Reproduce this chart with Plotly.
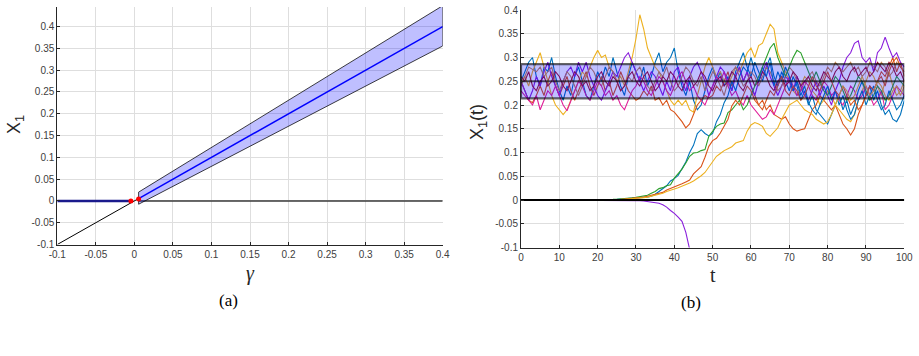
import plotly.graph_objects as go

W, H = 919, 356

# ---------------- Panel (a) data ----------------
neg_branch_x = [-0.1, -0.0045]
neg_branch_y = [0.0, 0.0]
diag_x = [-0.1, 0.0055]
diag_y = [-0.1, 0.0055]
zero_x = [0.0055, 0.4]
zero_y = [0.0, 0.0]
band_g = [0.0055, 0.1, 0.2, 0.3, 0.4]
band_mid = [0.0055, 0.1, 0.2, 0.3, 0.4]
band_up = [0.0202, 0.1226, 0.231, 0.3394, 0.448]
band_lo = [-0.0076, 0.0794, 0.1714, 0.2635, 0.3555]
red_x = [-0.0045, 0.0055]
red_y = [0.0, 0.0046]
xa_ticks = [-0.1, -0.05, 0, 0.05, 0.1, 0.15, 0.2, 0.25, 0.3, 0.35, 0.4]
xa_text = ["-0.1", "-0.05", "0", "0.05", "0.1", "0.15", "0.2", "0.25", "0.3", "0.35", "0.4"]
ya_ticks = [-0.1, -0.05, 0, 0.05, 0.1, 0.15, 0.2, 0.25, 0.3, 0.35, 0.4]
ya_text = ["-0.1", "-0.05", "0", "0.05", "0.1", "0.15", "0.2", "0.25", "0.3", "0.35", "0.4"]

# ---------------- Panel (b) data ----------------
t = list(range(101))
blue_a = [0.25,0.27,0.29,0.30,0.26,0.24,0.28,0.27,0.30,0.26,
          0.23,0.21,0.24,0.22,0.26,0.28,0.25,0.22,0.21,0.24,
          0.27,0.25,0.28,0.26,0.30,0.27,0.24,0.22,0.26,0.29,
          0.27,0.25,0.28,0.24,0.26,0.29,0.31,0.27,0.29,0.30,
          0.32,0.27,0.24,0.22,0.25,0.21,0.19,0.20,0.23,0.26,
          0.28,0.25,0.27,0.24,0.26,0.23,0.27,0.29,0.31,0.28,
          0.26,0.29,0.27,0.25,0.28,0.30,0.26,0.24,0.27,0.25,
          0.23,0.26,0.24,0.21,0.23,0.20,0.22,0.19,0.18,0.17,
          0.16,0.18,0.20,0.22,0.19,0.21,0.18,0.20,0.23,0.25,
          0.22,0.24,0.21,0.23,0.20,0.18,0.19,0.17,0.165,0.18,
          0.21]
orange_a = [0.25,0.23,0.21,0.205,0.22,0.24,0.22,0.25,0.27,0.24,
            0.22,0.24,0.26,0.23,0.21,0.23,0.25,0.27,0.24,0.22,
            0.24,0.26,0.23,0.25,0.22,0.24,0.27,0.25,0.23,0.22,
            0.21,0.215,0.23,0.22,0.24,0.21,0.215,0.20,0.21,0.19,
            0.185,0.175,0.165,0.152,0.16,0.18,0.20,0.21,0.22,0.215,
            0.22,0.24,0.23,0.25,0.27,0.24,0.26,0.28,0.25,0.27,
            0.24,0.22,0.20,0.21,0.19,0.20,0.18,0.175,0.17,0.175,
            0.16,0.15,0.145,0.148,0.15,0.17,0.19,0.20,0.22,0.21,
            0.20,0.19,0.20,0.18,0.16,0.15,0.137,0.15,0.18,0.20,
            0.22,0.24,0.23,0.25,0.27,0.26,0.28,0.30,0.27,0.29,
            0.26]
yellow_a = [0.25,0.26,0.24,0.27,0.29,0.31,0.28,0.25,0.22,0.20,
            0.19,0.18,0.19,0.21,0.23,0.25,0.27,0.26,0.28,0.30,
            0.315,0.30,0.305,0.28,0.27,0.25,0.26,0.24,0.27,0.30,
            0.34,0.39,0.36,0.32,0.30,0.28,0.27,0.25,0.23,0.21,
            0.20,0.21,0.20,0.21,0.19,0.185,0.22,0.25,0.28,0.30,
            0.28,0.26,0.27,0.25,0.24,0.26,0.28,0.27,0.29,0.31,
            0.32,0.30,0.325,0.33,0.35,0.37,0.36,0.31,0.29,0.27,
            0.25,0.23,0.22,0.24,0.26,0.25,0.23,0.22,0.20,0.21,
            0.23,0.22,0.20,0.19,0.18,0.17,0.165,0.18,0.21,0.23,
            0.25,0.27,0.26,0.24,0.22,0.25,0.27,0.24,0.22,0.23,
            0.25]
violet_a = [0.25,0.23,0.21,0.23,0.26,0.24,0.27,0.29,0.26,0.24,
            0.22,0.25,0.27,0.28,0.26,0.29,0.27,0.29,0.26,0.24,
            0.22,0.21,0.23,0.25,0.27,0.26,0.28,0.30,0.31,0.29,
            0.27,0.25,0.23,0.25,0.27,0.26,0.24,0.22,0.25,0.23,
            0.27,0.28,0.25,0.23,0.26,0.28,0.29,0.27,0.25,0.22,
            0.24,0.26,0.28,0.27,0.25,0.23,0.26,0.28,0.25,0.27,
            0.24,0.22,0.25,0.27,0.29,0.26,0.24,0.22,0.24,0.26,
            0.25,0.23,0.26,0.24,0.22,0.21,0.23,0.25,0.22,0.24,
            0.22,0.20,0.23,0.25,0.28,0.30,0.31,0.33,0.335,0.30,
            0.29,0.30,0.27,0.31,0.32,0.343,0.32,0.30,0.31,0.29,
            0.28]
tan_a = [0.24,0.26,0.28,0.275,0.27,0.28,0.26,0.27,0.28,0.25,
         0.23,0.25,0.27,0.26,0.24,0.22,0.24,0.26,0.28,0.27,
         0.25,0.24,0.26,0.28,0.27,0.25,0.23,0.24,0.26,0.25,
         0.27,0.28,0.26,0.24,0.23,0.25,0.27,0.26,0.28,0.25,
         0.23,0.24,0.26,0.28,0.27,0.25,0.24,0.26,0.23,0.25,
         0.27,0.26,0.24,0.22,0.25,0.27,0.28,0.26,0.24,0.25,
         0.27,0.26,0.24,0.26,0.28,0.27,0.25,0.23,0.24,0.26,
         0.28,0.27,0.25,0.23,0.24,0.26,0.27,0.25,0.24,0.26,
         0.28,0.27,0.29,0.28,0.27,0.28,0.29,0.27,0.28,0.26,
         0.27,0.29,0.28,0.27,0.29,0.28,0.26,0.27,0.29,0.28,
         0.27]
magenta_a = [0.23,0.22,0.21,0.20,0.22,0.19,0.21,0.23,0.22,0.24,
             0.22,0.20,0.188,0.21,0.23,0.25,0.24,0.22,0.21,0.23,
             0.25,0.24,0.22,0.23,0.21,0.22,0.20,0.19,0.21,0.23,
             0.24,0.26,0.25,0.23,0.22,0.24,0.26,0.25,0.23,0.22,
             0.24,0.26,0.27,0.25,0.23,0.24,0.22,0.21,0.20,0.22,
             0.24,0.26,0.25,0.27,0.24,0.22,0.23,0.21,0.20,0.22,
             0.20,0.19,0.18,0.17,0.175,0.19,0.18,0.20,0.22,0.24,
             0.26,0.24,0.22,0.23,0.25,0.24,0.22,0.21,0.23,0.25,
             0.24,0.22,0.23,0.21,0.20,0.22,0.24,0.23,0.21,0.22,
             0.24,0.22,0.20,0.21,0.23,0.19,0.20,0.22,0.24,0.23,
             0.22]
darkred_a = [0.26,0.25,0.27,0.24,0.23,0.25,0.26,0.24,0.25,0.27,
             0.26,0.24,0.23,0.25,0.27,0.26,0.24,0.25,0.23,0.24,
             0.26,0.27,0.25,0.24,0.26,0.25,0.23,0.24,0.26,0.27,
             0.25,0.24,0.26,0.27,0.25,0.23,0.24,0.26,0.25,0.27,
             0.26,0.24,0.23,0.25,0.26,0.24,0.25,0.27,0.26,0.24,
             0.23,0.25,0.26,0.24,0.25,0.27,0.26,0.24,0.23,0.25,
             0.26,0.24,0.25,0.27,0.26,0.24,0.23,0.25,0.26,0.24,
             0.25,0.27,0.26,0.24,0.25,0.26,0.24,0.23,0.25,0.27,
             0.26,0.25,0.27,0.28,0.26,0.25,0.27,0.28,0.26,0.27,
             0.28,0.26,0.27,0.29,0.28,0.27,0.29,0.28,0.26,0.27,
             0.25]
blue_b = [0.0]*20 + [
          0.0005,0.0006,0.0008,0.001,0.0012,0.0015,0.002,0.0025,0.003,0.004,
          0.005,0.0055,0.006,0.006,0.008,0.012,0.018,0.025,0.03,0.04,
          0.045,0.052,0.065,0.08,0.10,0.115,0.14,0.148,0.14,0.135,
          0.14,0.165,0.18,0.205,0.22,0.25,0.23,0.26,0.28,0.27,
          0.30,0.27,0.25,0.28,0.26,0.29,0.24,0.27,0.25,0.28,
          0.26,0.23,0.25,0.22,0.24,0.205,0.19,0.18,0.20,0.22,
          0.24,0.21,0.23,0.20,0.22,0.19,0.17,0.18,0.21,0.23,
          0.20,0.22,0.24,0.21,0.19,0.20,0.23,0.21,0.19,0.20,
          0.22]
green_b = [0.0]*20 + [
           0.0005,0.0006,0.0008,0.001,0.0013,0.0016,0.002,0.0028,0.0035,0.0045,
           0.0055,0.007,0.008,0.01,0.014,0.018,0.024,0.026,0.03,0.032,
           0.046,0.055,0.065,0.078,0.092,0.099,0.10,0.104,0.106,0.134,
           0.145,0.155,0.16,0.162,0.184,0.19,0.20,0.21,0.19,0.20,
           0.22,0.24,0.26,0.28,0.30,0.32,0.33,0.30,0.28,0.26,
           0.28,0.30,0.315,0.31,0.29,0.27,0.25,0.27,0.25,0.23,
           0.22,0.24,0.26,0.25,0.23,0.21,0.22,0.24,0.26,0.25,
           0.23,0.21,0.22,0.24,0.23,0.21,0.22,0.24,0.26,0.25,
           0.24]
orange_b = [0.0]*20 + [
            0.0004,0.0005,0.0006,0.0008,0.001,0.0012,0.0015,0.002,0.0025,0.003,
            0.004,0.005,0.006,0.008,0.01,0.012,0.014,0.016,0.021,0.024,
            0.027,0.03,0.034,0.038,0.042,0.055,0.063,0.07,0.09,0.113,
            0.125,0.13,0.141,0.155,0.17,0.198,0.21,0.20,0.22,0.24,
            0.23,0.21,0.20,0.19,0.21,0.23,0.22,0.24,0.26,0.23,
            0.22,0.24,0.23,0.21,0.22,0.24,0.26,0.24,0.23,0.25,
            0.27,0.25,0.23,0.22,0.24,0.22,0.20,0.21,0.19,0.20,
            0.22,0.24,0.23,0.25,0.26,0.24,0.27,0.29,0.30,0.28,
            0.27]
yellow_b = [0.0]*20 + [
            0.0003,0.0004,0.0005,0.0007,0.0009,0.001,0.0013,0.0016,0.002,0.0025,
            0.003,0.004,0.005,0.006,0.008,0.01,0.012,0.014,0.018,0.02,
            0.023,0.026,0.029,0.032,0.036,0.04,0.045,0.051,0.058,0.07,
            0.082,0.092,0.098,0.104,0.108,0.112,0.12,0.122,0.125,0.145,
            0.158,0.163,0.16,0.155,0.14,0.134,0.142,0.152,0.17,0.185,
            0.20,0.205,0.21,0.20,0.19,0.185,0.18,0.17,0.165,0.16,
            0.165,0.18,0.20,0.22,0.24,0.23,0.21,0.22,0.24,0.26,
            0.24,0.22,0.23,0.25,0.24,0.22,0.21,0.23,0.24,0.22,
            0.24]
violet_b = [0.0]*20 + [
            -0.0001,-0.0002,-0.0002,-0.0003,-0.0004,-0.0005,-0.0006,-0.0007,-0.0008,-0.0009,
            -0.001,-0.0015,-0.002,-0.003,-0.004,-0.005,-0.007,-0.01,-0.015,-0.022,
            -0.028,-0.036,-0.045,-0.068,-0.10,-0.14]
band_t = [0, 100]
band_center = 0.25
band_low = 0.214
band_high = 0.286
zero_t = [0, 100]
xb_ticks = [0, 10, 20, 30, 40, 50, 60, 70, 80, 90, 100]
yb_ticks = [-0.1, -0.05, 0, 0.05, 0.1, 0.15, 0.2, 0.25, 0.3, 0.35, 0.4]
yb_text = ["-0.1", "-0.05", "0", "0.05", "0.1", "0.15", "0.2", "0.25", "0.3", "0.35", "0.4"]

C_BLUE = "#0072BD"
C_ORANGE = "#D95319"
C_YELLOW = "#EDB120"
C_VIOLET = "#8A1FDC"
C_GREEN = "#2CA02C"
C_TAN = "#C08552"
C_MAGENTA = "#E0209A"
C_DARKRED = "#A2142F"

fig = go.Figure()

# ---- panel (a)
fig.add_trace(go.Scatter(x=diag_x, y=diag_y, mode="lines",
                         line=dict(color="#000000", width=1), xaxis="x", yaxis="y"))
fig.add_trace(go.Scatter(x=zero_x, y=zero_y, mode="lines",
                         line=dict(color="#3a3a3a", width=1.5), xaxis="x", yaxis="y"))
fig.add_trace(go.Scatter(x=neg_branch_x, y=neg_branch_y, mode="lines",
                         line=dict(color="#1a1a8c", width=2.5), xaxis="x", yaxis="y"))
poly_x = band_g + band_g[::-1] + [band_g[0]]
poly_y = band_up + band_lo[::-1] + [band_up[0]]
fig.add_trace(go.Scatter(x=poly_x, y=poly_y, mode="lines", fill="toself",
                         fillcolor="rgba(0,0,255,0.25)",
                         line=dict(color="rgba(0,0,0,0.75)", width=1), xaxis="x", yaxis="y"))
fig.add_trace(go.Scatter(x=band_g, y=band_mid, mode="lines",
                         line=dict(color="#0000FF", width=1.5), xaxis="x", yaxis="y"))
fig.add_trace(go.Scatter(x=red_x, y=red_y, mode="markers",
                         marker=dict(color="#FF0000", size=5), xaxis="x", yaxis="y"))

# ---- panel (b)
paths = [(blue_a, C_BLUE), (orange_a, C_ORANGE), (yellow_a, C_YELLOW),
         (violet_a, C_VIOLET), (tan_a, C_TAN), (magenta_a, C_MAGENTA),
         (darkred_a, C_DARKRED),
         (blue_b, C_BLUE), (green_b, C_GREEN), (orange_b, C_ORANGE),
         (yellow_b, C_YELLOW), (violet_b, C_VIOLET)]
for vals, col in paths:
    fig.add_trace(go.Scatter(x=t[:len(vals)], y=vals, mode="lines",
                             line=dict(color=col, width=1.1), xaxis="x2", yaxis="y2"))

fig.add_trace(go.Scatter(x=[band_t[0], band_t[1], band_t[1], band_t[0], band_t[0]],
                         y=[band_low, band_low, band_high, band_high, band_low],
                         mode="lines", fill="toself", fillcolor="rgba(0,0,255,0.25)",
                         line=dict(color="rgba(0,0,0,0.6)", width=2.2),
                         xaxis="x2", yaxis="y2"))
fig.add_trace(go.Scatter(x=band_t, y=[band_center, band_center], mode="lines",
                         line=dict(color="rgba(0,0,0,0.6)", width=2.2),
                         xaxis="x2", yaxis="y2"))
fig.add_trace(go.Scatter(x=zero_t, y=[0, 0], mode="lines",
                         line=dict(color="#000000", width=2), xaxis="x2", yaxis="y2"))

tickfont = dict(family="Liberation Sans", size=10, color="#404040")
common = dict(showgrid=True, gridcolor="#dedede", gridwidth=1, zeroline=False,
              showline=True, linecolor="#262626", linewidth=1, ticks="inside",
              ticklen=3, tickcolor="#262626", tickfont=tickfont, mirror=False,
              automargin=False)

def px(x):
    return x / W

def py(y):
    return 1 - y / H

fig.update_layout(
    template="none",
    width=W, height=H, margin=dict(l=0, r=0, t=0, b=0, autoexpand=False),
    paper_bgcolor="white", plot_bgcolor="white", showlegend=False,
    xaxis=dict(domain=[px(57.3), px(442.7)], range=[-0.1, 0.4], tickvals=xa_ticks,
               ticktext=xa_text, anchor="y", **common),
    yaxis=dict(domain=[py(244.5), py(7)], range=[-0.1, 0.445], tickvals=ya_ticks,
               ticktext=ya_text, anchor="x", **common),
    xaxis2=dict(domain=[px(521), px(904.3)], range=[0, 100], tickvals=xb_ticks,
                anchor="y2", **common),
    yaxis2=dict(domain=[py(247.5), py(10)], range=[-0.1, 0.4], tickvals=yb_ticks,
                ticktext=yb_text, anchor="x2", **common),
)

sans = "Liberation Sans"
serif = "Liberation Serif"
ann = [
    dict(x=px(15), y=py(125), text="X<sub>1</sub>", textangle=-90,
         font=dict(family=sans, size=18, color="#262626")),
    dict(x=px(478), y=py(122), text="X<sub>1</sub>(t)", textangle=-90,
         font=dict(family=sans, size=18, color="#262626")),
    dict(x=px(250), y=py(273), text="<i>γ</i>",
         font=dict(family=serif, size=20, color="#262626")),
    dict(x=px(713), y=py(275), text="t",
         font=dict(family=serif, size=20, color="#262626")),
    dict(x=px(228), y=py(300), text="(a)",
         font=dict(family=serif, size=17, color="#000000")),
    dict(x=px(691), y=py(302), text="(b)",
         font=dict(family=serif, size=17, color="#000000")),
]
for a in ann:
    a.update(xref="paper", yref="paper", showarrow=False, xanchor="center", yanchor="middle")
fig.update_layout(annotations=ann)

fig.write_html("out.html")
